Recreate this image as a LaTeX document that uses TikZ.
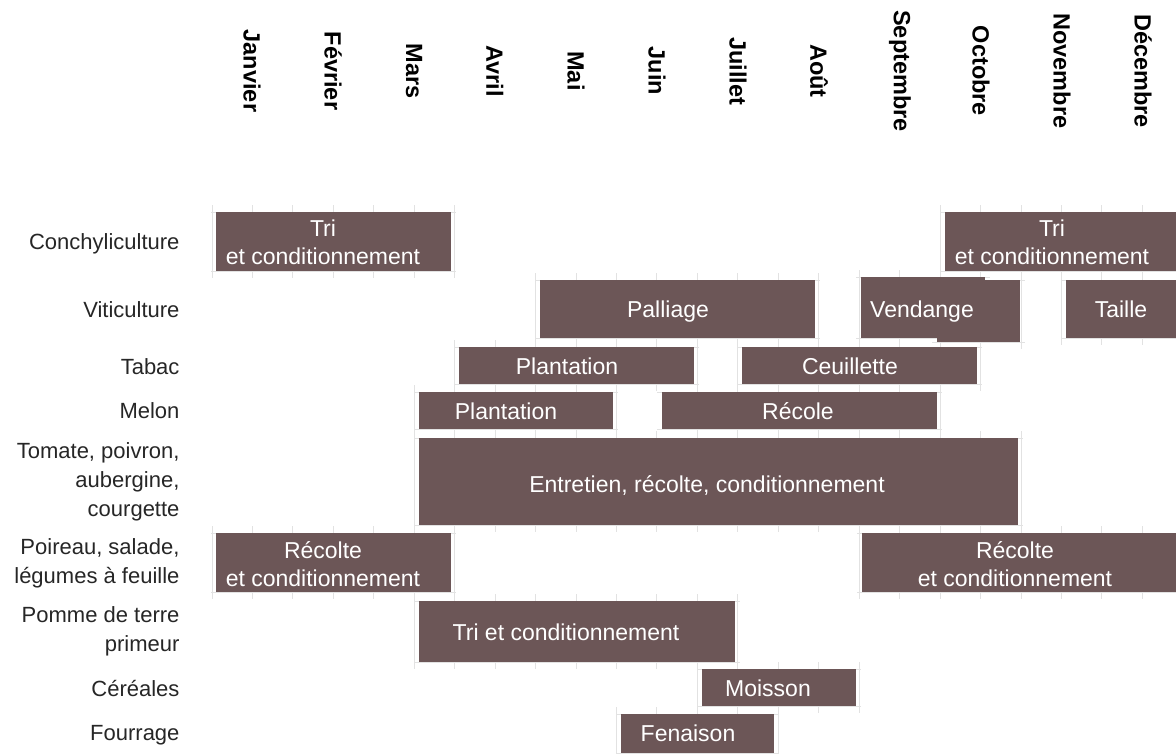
\documentclass[tikz,border=0pt]{standalone}
\usepackage{fontspec}
\setmainfont{Liberation Sans}
\definecolor{barbrown}{RGB}{108,86,87}
\definecolor{gridgray}{RGB}{226,226,226}
\tikzset{>=stealth}
\tikzset{
  month/.style={rotate=-90, font=\fontsize{23.5}{27}\selectfont\bfseries},
  crop/.style={anchor=east, align=right, text=black!85, font=\fontsize{22}{29}\selectfont},
  tasktext/.style={align=center, text=white, font=\fontsize{23}{28}\selectfont},
  oneline/.style={text depth=0pt},
  gridline/.style={gridgray, line width=1pt}
}
\def\tasks{216/212/451/271, 945/212/1176/271, 540/280/815/338, 861/277/985/338, 937/280/1020/342,
  1066/280/1176/338, 459/347/694/384, 742/347/977/384, 419/392/613/429, 662/392/937/429,
  419/438/1018/525, 216/533/451/592, 862/533/1176/592, 419/601/735/662, 702/669/856/706, 621/714/774/753}

\begin{document}
\begin{tikzpicture}[x=1pt, y=-1pt]
\useasboundingbox (0,0) rectangle (1176,753);
\foreach \a/\b/\c/\d in \tasks {
  \begin{scope}
    \clip (\a-5,\b-7) rectangle (\c+5,\d+7);
    \foreach \k in {0,...,24} \draw[gridline] (212+40.45*\k,\b-7) -- (212+40.45*\k,\d+7);
    \draw[gridline] (\a-5,\b) -- (\c+5,\b) (\a-5,\d) -- (\c+5,\d);
  \end{scope}
}
\foreach \a/\b/\c/\d in \tasks \fill[barbrown] (\a,\b) rectangle (\c,\d);

\foreach \m [count=\i from 0] in {Janvier, Février, Mars, Avril, Mai, Juin, Juillet, Août, Septembre, Octobre, Novembre, Décembre}
  \node[month] (m\i) at (252+81*\i,71) {\m};

\node[crop, oneline] (conch) at (183,242) {Conchyliculture};
\node[crop, oneline] (viti) at (183,310) {Viticulture};
\node[crop, oneline] (tabac) at (183,367) {Tabac};
\node[crop, oneline] (melon) at (183,411) {Melon};
\node[crop] (tomate) at (183,482) {Tomate, poivron,\\aubergine,\\courgette};
\node[crop] (poireau) at (183,563) {Poireau, salade,\\légumes à feuille};
\node[crop] (pomme) at (183,631) {Pomme de terre\\primeur};
\node[crop, oneline] (cereales) at (183,688) {Céréales};
\node[crop, oneline] (fourrage) at (183,733) {Fourrage};

\node[tasktext] (tri1) at (323,242) {Tri\\et conditionnement};
\node[tasktext] (tri2) at (1052,242) {Tri\\et conditionnement};
\node[tasktext, oneline] (palliage) at (668,309) {Palliage};
\node[tasktext, oneline] (vendange) at (922,309) {Vendange};
\node[tasktext, oneline] (taille) at (1121,309) {Taille};
\node[tasktext, oneline] (plant1) at (567,366) {Plantation};
\node[tasktext, oneline] (ceuil) at (850,366) {Ceuillette};
\node[tasktext, oneline] (plant2) at (506,411) {Plantation};
\node[tasktext, oneline] (recole) at (798,411) {Récole};
\node[tasktext, oneline] (entretien) at (707,484) {Entretien, récolte, conditionnement};
\node[tasktext] (recolte1) at (323,564) {Récolte\\et conditionnement};
\node[tasktext] (recolte2) at (1015,564) {Récolte\\et conditionnement};
\node[tasktext, oneline] (tripdt) at (566,632) {Tri et conditionnement};
\node[tasktext, oneline] (moisson) at (768,688) {Moisson};
\node[tasktext, oneline] (fenaison) at (688,733) {Fenaison};
\end{tikzpicture}
\end{document}
